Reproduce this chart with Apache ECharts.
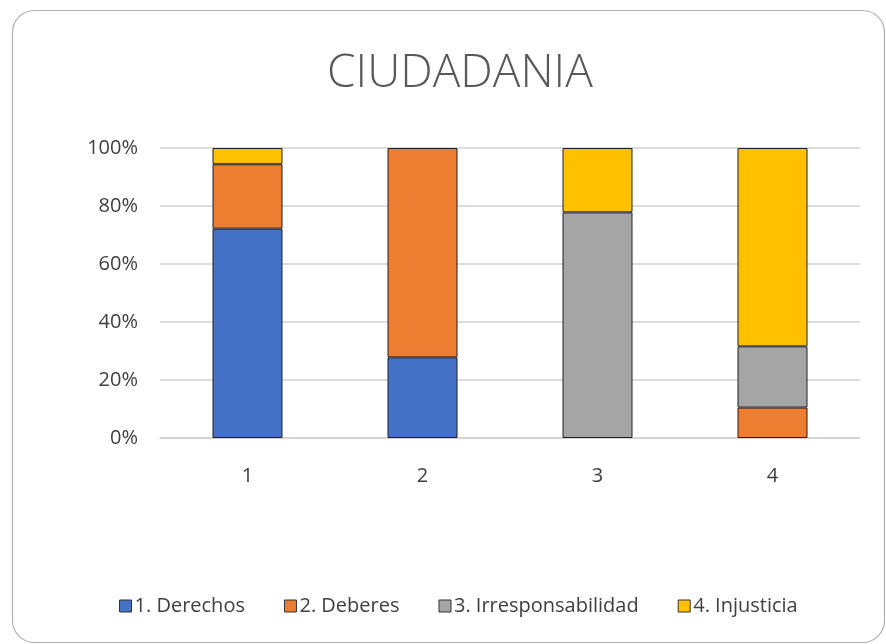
<!DOCTYPE html>
<html>
<head>
<meta charset="utf-8">
<title>CIUDADANIA</title>
<script src="https://cdn.jsdelivr.net/npm/echarts@6/dist/echarts.min.js"></script>
<style>
    html, body { margin: 0; padding: 0; background: #fff; }
    #main { width: 886px; height: 644px; }
</style>
</head>
<body>
<div id="main"></div>
<script>
// categorias y valores (porcentaje de cada columna)
var categorias = ['1', '2', '3', '4'];
var derechos = [72.2, 27.8, null, null];
var deberes = [22.2, 72.2, null, 10.5];
var irresponsabilidad = [null, null, 77.8, 21.1];
var injusticia = [5.6, null, 22.2, 68.4];
var nombres = ['1. Derechos', '2. Deberes', '3. Irresponsabilidad', '4. Injusticia'];
var colores = ['#4472C4', '#ED7D31', '#A5A5A5', '#FFC000'];
var ticksY = [0, 20, 40, 60, 80, 100];

var myChart = echarts.init(document.getElementById('main'));

function serie(i, datos) {
    return {
        name: nombres[i],
        type: 'bar',
        stack: 'total',
        barWidth: '40%',
        data: datos,
        itemStyle: {
            color: colores[i],
            borderColor: '#1f1f2a',
            borderWidth: 1
        }
    };
}

var option = {
    animation: false,
    backgroundColor: '#fff',
    graphic: [{
        type: 'rect',
        left: 10,
        top: 8,
        shape: { width: 872, height: 632, r: 22 },
        style: { fill: 'none', stroke: '#b0b0b0', lineWidth: 1.2 },
        z: -1
    }],
    title: {
        text: 'CIUDADANIA',
        left: 322,
        top: 46,
        textStyle: {
            fontFamily: 'Open Sans',
            fontWeight: 300,
            fontSize: 46,
            color: '#595959'
        }
    },
    legend: {
        bottom: 23,
        left: 114,
        itemWidth: 12,
        itemHeight: 12,
        itemGap: 39,
        icon: 'rect',
        data: nombres,
        itemStyle: { borderColor: '#333', borderWidth: 1 },
        textStyle: {
            fontFamily: 'Open Sans',
            fontSize: 20,
            color: '#404040',
            padding: [0, 0, 0, -2]
        }
    },
    grid: {
        left: 160,
        right: 26,
        top: 148,
        bottom: 206
    },
    xAxis: {
        type: 'category',
        data: categorias,
        axisLine: { lineStyle: { color: '#d0d0d0', width: 1.5 } },
        axisTick: { show: false },
        axisLabel: {
            margin: 28,
            fontFamily: 'Open Sans',
            fontSize: 20,
            color: '#404040'
        }
    },
    yAxis: {
        type: 'value',
        min: ticksY[0],
        max: ticksY[ticksY.length - 1],
        interval: 20,
        axisLine: { show: false },
        axisTick: { show: false },
        splitLine: { lineStyle: { color: '#d0d0d0', width: 1.5 } },
        axisLabel: {
            margin: 22,
            fontFamily: 'Open Sans',
            fontSize: 20,
            color: '#404040',
            formatter: '{value}%'
        }
    },
    series: [
        serie(0, derechos),
        serie(1, deberes),
        serie(2, irresponsabilidad),
        serie(3, injusticia)
    ]
};
myChart.setOption(option);
</script>
</body>
</html>
